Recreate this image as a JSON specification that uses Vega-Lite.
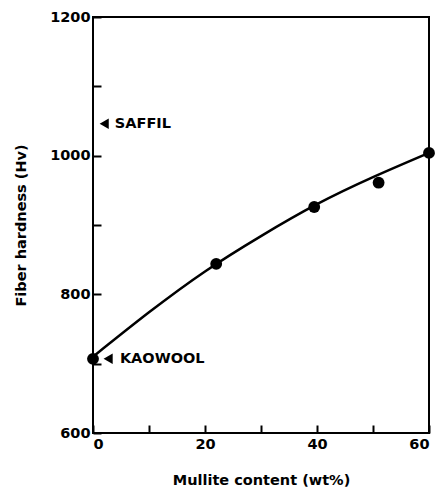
{
  "$schema": "https://vega.github.io/schema/vega-lite/v6.json",
  "autosize": "none",
  "width": 336,
  "height": 416,
  "padding": {"left": 93, "top": 17, "right": 8, "bottom": 56},
  "background": "white",
  "config": {
    "view": {"stroke": "black", "strokeWidth": 2},
    "font": "DejaVu Sans",
    "axis": {
      "domain": false,
      "grid": false,
      "tickColor": "black",
      "tickWidth": 2,
      "tickSize": -8,
      "labelColor": "black",
      "labelFont": "DejaVu Sans",
      "labelFontWeight": "bold",
      "labelFontSize": 14.5,
      "titleColor": "black",
      "titleFont": "DejaVu Sans",
      "titleFontWeight": "bold",
      "titleFontSize": 14.5
    }
  },
  "datasets": {
    "curve": [
      {"x": 0, "y": 710},
      {"x": 10, "y": 774},
      {"x": 20, "y": 833},
      {"x": 30, "y": 884},
      {"x": 40, "y": 930},
      {"x": 50, "y": 969},
      {"x": 60, "y": 1004}
    ],
    "measured": [
      {"x": 0, "y": 707},
      {"x": 22, "y": 844},
      {"x": 39.5, "y": 926},
      {"x": 51, "y": 961},
      {"x": 60, "y": 1004}
    ],
    "refs": [
      {"x": 2.0, "y": 1046, "tx": 3.9, "label": "SAFFIL"},
      {"x": 2.7, "y": 707, "tx": 4.8, "label": "KAOWOOL"}
    ]
  },
  "encoding": {
    "x": {
      "field": "x",
      "type": "quantitative",
      "scale": {"domain": [0, 60], "nice": false, "zero": false},
      "axis": {
        "title": "Mullite content (wt%)",
        "values": [0, 10, 20, 30, 40, 50, 60],
        "labelExpr": "datum.value % 20 === 0 ? datum.label : ''",
        "labelPadding": 12,
        "titlePadding": 23
      }
    },
    "y": {
      "field": "y",
      "type": "quantitative",
      "scale": {"domain": [600, 1200], "nice": false, "zero": false},
      "axis": {
        "title": "Fiber hardness (Hv)",
        "values": [600, 700, 800, 900, 1000, 1100, 1200],
        "labelExpr": "datum.value % 200 === 0 ? datum.label : ''",
        "format": "d",
        "labelPadding": 11,
        "titlePadding": 21
      }
    }
  },
  "layer": [
    {
      "data": {"name": "curve"},
      "mark": {"type": "line", "color": "black", "strokeWidth": 2.5, "interpolate": "natural", "clip": false}
    },
    {
      "data": {"name": "measured"},
      "mark": {"type": "point", "filled": true, "color": "black", "opacity": 1, "size": 140}
    },
    {
      "data": {"name": "refs"},
      "mark": {"type": "point", "shape": "triangle-left", "filled": true, "color": "black", "opacity": 1, "size": 110}
    },
    {
      "data": {"name": "refs"},
      "mark": {"type": "text", "align": "left", "baseline": "middle", "fontWeight": "bold", "fontSize": 14.5, "font": "DejaVu Sans", "color": "black"},
      "encoding": {
        "x": {"field": "tx", "type": "quantitative"},
        "text": {"field": "label"}
      }
    }
  ]
}
